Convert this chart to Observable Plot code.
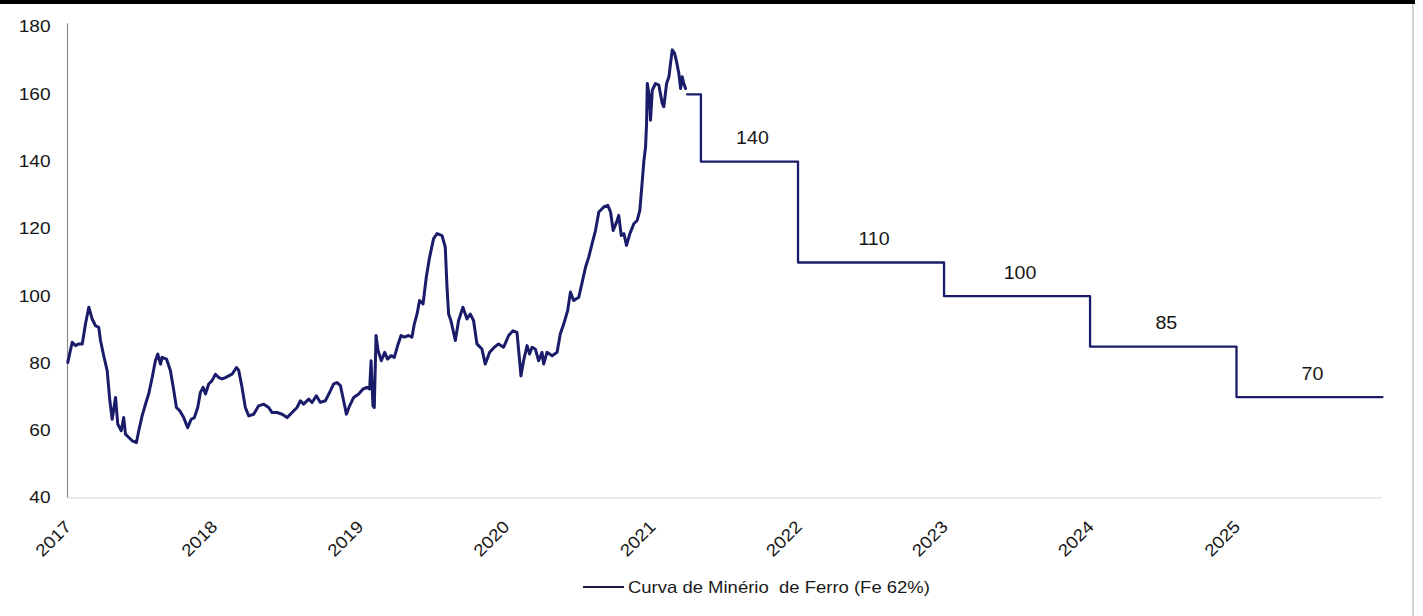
<!DOCTYPE html>
<html>
<head>
<meta charset="utf-8">
<script src="https://cdn.jsdelivr.net/npm/d3@7"></script>
<script src="https://cdn.jsdelivr.net/npm/@observablehq/plot@0.6"></script>
<style>
  body { margin: 0; background: #fff; font-family: "Liberation Sans", Arial, sans-serif; }
  #wrap { position: relative; width: 1423px; height: 616px; overflow: hidden; background: #fff; }
  #chart { position: absolute; left: 0; top: 0; }
  #topbar { position: absolute; left: 0; top: 0; width: 1415px; height: 4px; background: #000; }
  #rightline { position: absolute; left: 1412px; top: 4px; width: 2px; height: 612px; background: #d2d2d2; }
  #legend { position: absolute; left: 0; top: 570px; width: 1423px; height: 46px; }
  #legend .swatch { position: absolute; left: 583px; top: 16px; width: 41px; height: 2px; background: #1a1a3a; }
  #legend .label { position: absolute; left: 628px; top: 7px; line-height: 20px; font-size: 16.5px; color: #1a1a1a;
                   white-space: pre; transform: scaleX(1.12); transform-origin: left center; }
</style>
</head>
<body>
<div id="wrap">
  <div id="chart"></div>
  <div id="topbar"></div>
  <div id="rightline"></div>
  <div id="legend"><div class="swatch"></div><div class="label" id="legendLabel"></div></div>
</div>
<script>
// ---- data ----
const seriesName = "Curva de Minério  de Ferro (Fe 62%)";

// historical 62% Fe curve: time as decimal year, value in US$/t
const histYears = [
  2017.002, 2017.032, 2017.055, 2017.077, 2017.101, 2017.123, 2017.146, 2017.169, 2017.192, 2017.214,
  2017.226, 2017.248, 2017.272, 2017.290, 2017.306, 2017.329, 2017.344, 2017.368, 2017.385, 2017.397,
  2017.420, 2017.443, 2017.472, 2017.488, 2017.511, 2017.541, 2017.556, 2017.580, 2017.602, 2017.618,
  2017.637, 2017.648, 2017.678, 2017.705, 2017.728, 2017.746, 2017.769, 2017.796, 2017.823, 2017.847,
  2017.869, 2017.892, 2017.910, 2017.929, 2017.945, 2017.967, 2017.990, 2018.013, 2018.036, 2018.059,
  2018.081, 2018.104, 2018.127, 2018.157, 2018.172, 2018.195, 2018.218, 2018.241, 2018.275, 2018.309,
  2018.344, 2018.378, 2018.401, 2018.435, 2018.470, 2018.504, 2018.538, 2018.572, 2018.595, 2018.617,
  2018.652, 2018.675, 2018.704, 2018.732, 2018.766, 2018.795, 2018.823, 2018.846, 2018.869, 2018.891,
  2018.910, 2018.932, 2018.960, 2018.994, 2019.024, 2019.051, 2019.069, 2019.079, 2019.092, 2019.101,
  2019.113, 2019.127, 2019.149, 2019.172, 2019.192, 2019.216, 2019.238, 2019.261, 2019.284, 2019.307,
  2019.336, 2019.359, 2019.375, 2019.394, 2019.411, 2019.435, 2019.457, 2019.480, 2019.507, 2019.531,
  2019.565, 2019.587, 2019.599, 2019.610, 2019.626, 2019.656, 2019.678, 2019.708, 2019.736, 2019.758,
  2019.781, 2019.804, 2019.838, 2019.861, 2019.891, 2019.923, 2019.952, 2019.986, 2020.021, 2020.051,
  2020.078, 2020.096, 2020.105, 2020.123, 2020.147, 2020.164, 2020.181, 2020.203, 2020.226, 2020.249,
  2020.260, 2020.283, 2020.318, 2020.352, 2020.374, 2020.397, 2020.424, 2020.443, 2020.465, 2020.500,
  2020.523, 2020.546, 2020.568, 2020.591, 2020.614, 2020.637, 2020.671, 2020.698, 2020.717, 2020.735,
  2020.758, 2020.773, 2020.790, 2020.808, 2020.826, 2020.849, 2020.876, 2020.899, 2020.917, 2020.934,
  2020.945, 2020.956, 2020.963, 2020.968, 2020.982, 2020.990, 2021.002, 2021.024, 2021.047, 2021.070,
  2021.081, 2021.100, 2021.116, 2021.127, 2021.139, 2021.155, 2021.168, 2021.184, 2021.196, 2021.207,
  2021.218, 2021.230
];
const histValues = [
  80.3, 86.3, 85.3, 85.8, 85.8, 91.7, 96.7, 93.2, 91.2, 90.7,
  86.8, 82.3, 77.8, 68.9, 63.4, 69.9, 62.0, 60.0, 63.9, 59.0,
  58.0, 57.0, 56.5, 60.0, 64.4, 68.9, 70.9, 75.8, 80.8, 82.8,
  79.8, 81.8, 81.3, 77.8, 71.9, 66.9, 65.9, 63.9, 60.9, 63.4,
  63.9, 66.9, 71.4, 72.9, 70.9, 73.9, 74.9, 76.8, 75.8, 75.4,
  75.8, 76.3, 76.8, 78.8, 78.0, 72.9, 66.9, 64.4, 64.9, 67.4,
  67.9, 66.9, 65.4, 65.4, 64.9, 63.9, 65.4, 66.9, 68.9, 67.9,
  69.4, 68.4, 70.4, 68.4, 68.9, 71.4, 73.9, 74.3, 73.4, 68.9,
  64.9, 67.4, 69.9, 70.9, 72.4, 72.9, 72.4, 80.8, 67.4, 66.9,
  88.3, 83.8, 80.8, 83.3, 81.3, 82.3, 81.8, 85.3, 88.3, 87.8,
  88.3, 87.8, 91.7, 94.7, 98.7, 97.7, 105.6, 111.6, 117.1, 118.6,
  118.0, 114.6, 102.6, 94.7, 92.7, 86.8, 92.7, 96.7, 93.2, 94.7,
  92.7, 85.8, 84.3, 79.8, 83.3, 84.8, 85.8, 84.8, 88.3, 89.7,
  89.2, 80.8, 76.3, 80.8, 85.3, 82.8, 84.8, 84.3, 80.8, 83.3,
  79.8, 83.3, 82.3, 83.3, 88.8, 91.7, 95.7, 101.2, 98.7, 99.7,
  104.1, 108.6, 111.6, 115.6, 119.5, 125.0, 126.5, 127.0, 125.0, 119.5,
  122.0, 124.0, 118.0, 118.6, 115.1, 118.6, 121.5, 122.5, 125.5, 134.4,
  140.4, 144.3, 151.3, 163.2, 159.2, 152.3, 161.2, 163.2, 162.7, 157.3,
  156.3, 163.2, 165.2, 169.2, 173.2, 172.2, 169.7, 166.2, 161.7, 165.2,
  163.2, 161.7
];

// forecast step curve (each value holds until the next time)
const forecastYears  = [2021.24, 2021.335, 2022, 2023, 2024, 2025, 2026];
const forecastValues = [160, 140, 110, 100, 85, 70, 70];
const segmentLabels  = ["140", "110", "100", "85", "70"];

const yTicks = [40, 60, 80, 100, 120, 140, 160, 180];
const xTickYears = [2017, 2018, 2019, 2020, 2021, 2022, 2023, 2024, 2025];

// ---- build ----
function toDate(y) {
  const y0 = Math.floor(y);
  const a = Date.UTC(y0, 0, 1), b = Date.UTC(y0 + 1, 0, 1);
  return new Date(a + (y - y0) * (b - a));
}
const hist = histYears.map((y, i) => ({date: toDate(y), value: histValues[i]}));
const fc = forecastYears.map((y, i) => ({date: toDate(y), value: forecastValues[i]}));
const labels = segmentLabels.map((t, i) => ({
  date: toDate((forecastYears[i + 1] + forecastYears[i + 2]) / 2),
  value: forecastValues[i + 1],
  text: t
}));

const navy = "#1a1c6a";
const ink = "#161616";

const svg = Plot.plot({
  width: 1423,
  height: 570,
  marginLeft: 67,
  marginRight: 41,
  marginTop: 26.5,
  marginBottom: 72.5,
  style: {fontFamily: "'Liberation Sans', Arial, sans-serif", fontSize: "17px", color: ink, background: "transparent", overflow: "visible"},
  x: {type: "utc", domain: [toDate(2017), toDate(2026)]},
  y: {domain: [40, 180]},
  marks: [
    Plot.ruleY([40], {stroke: "#e4e4e4", strokeWidth: 1.5}),
    Plot.ruleX([toDate(2017)], {y1: 40, y2: 181, stroke: "#8c8c8c", strokeWidth: 1.2}),
    Plot.axisY({ticks: yTicks, tickSize: 0, tickPadding: 17, fontSize: 17, label: null, fill: ink}),
    Plot.axisX({ticks: xTickYears.map(toDate), tickFormat: d3.utcFormat("%Y"), tickSize: 0,
                tickRotate: -45, tickPadding: 19, dy: 7, dx: 1, fontSize: 17, label: null, fill: ink}),
    Plot.line(hist, {x: "date", y: "value", stroke: navy, strokeWidth: 3, strokeLinejoin: "round"}),
    Plot.line(fc, {x: "date", y: "value", curve: "step-after", stroke: navy, strokeWidth: 2.3}),
    Plot.text(labels, {x: "date", y: "value", text: "text", dy: -23, dx: 3, fontSize: 17.5, fill: ink})
  ]
});

document.getElementById("chart").append(svg);
document.getElementById("legendLabel").textContent = seriesName;

// the reference typography is horizontally wider than Arial: stretch glyphs
svg.querySelectorAll("text").forEach(t => {
  if (t.querySelector("tspan")) return;
  const L = t.getComputedTextLength();
  if (L > 0) {
    t.setAttribute("textLength", (L * 1.12).toFixed(2));
    t.setAttribute("lengthAdjust", "spacingAndGlyphs");
  }
});
</script>
</body>
</html>
